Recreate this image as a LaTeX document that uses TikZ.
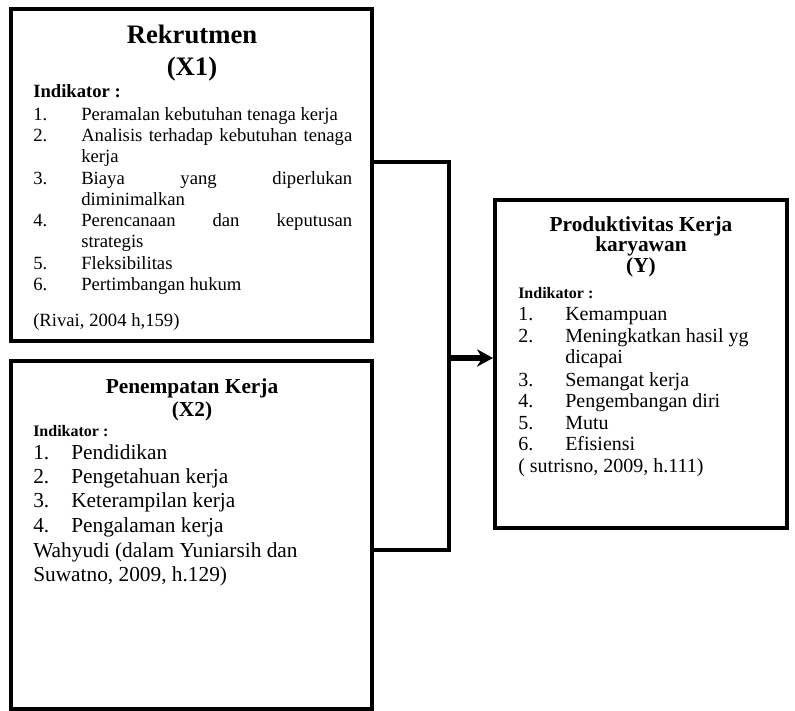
\documentclass[tikz,border=0pt]{standalone}
\usepackage{fontspec}
\setmainfont{Liberation Serif}
\usetikzlibrary{arrows.meta}
\tikzstyle{box}=[draw, line width=3pt, inner sep=0pt]
\tikzstyle{ttl}=[anchor=base, inner sep=0pt]
\tikzstyle{txt}=[anchor=base west, inner sep=0pt]
\tikzstyle{conn}=[line width=3pt]
\newcommand{\fsa}{\fontsize{14}{16}\selectfont}
\newcommand{\fsb}{\fontsize{16}{18}\selectfont}
\newcommand{\fsc}{\fontsize{15}{17}\selectfont}
\newcommand{\jw}{203.25pt}

\begin{document}
\begin{tikzpicture}[x=0.75pt, y=-0.75pt]
\useasboundingbox (0,0) rectangle (795,710);
% kotak
\node[box, minimum width=270.75pt, minimum height=249pt] (a) at (191.5,175) {};
\node[box, minimum width=270.75pt, minimum height=261pt] (b) at (191.5,535) {};
\node[box, minimum width=219pt, minimum height=246pt] (c) at (641,364) {};
% Rekrutmen
\node[ttl, font=\bfseries\fontsize{20}{23}\selectfont] (a1) at (192,44) {Rekrutmen};
\node[ttl, font=\bfseries\fontsize{20}{23}\selectfont] (a2) at (192,75) {(X1)};
\node[txt, font=\bfseries\fsa] (a3) at (33,98) {Indikator :};
\foreach \y/\n in {120/1,141/2,184/3,226/4,269/5,290/6}
  \node[txt, font=\fsa] (an\n) at (33,\y) {\n.};
\foreach \y/\t [count=\i] in {120/{Peramalan kebutuhan tenaga kerja},
  141/{\makebox[\jw][s]{Analisis terhadap kebutuhan tenaga}}, 162/{kerja},
  184/{\makebox[\jw][s]{Biaya yang diperlukan}}, 205/{diminimalkan},
  226/{\makebox[\jw][s]{Perencanaan dan keputusan}}, 247/{strategis},
  269/{Fleksibilitas}, 290/{Pertimbangan hukum}}
  \node[txt, font=\fsa] (al\i) at (81,\y) {\t};
\node[txt, font=\fsa] (a4) at (33,326) {(Rivai, 2004 h,159)};
% Penempatan Kerja
\node[ttl, font=\bfseries\fsb] (b1) at (192,393) {Penempatan Kerja};
\node[ttl, font=\bfseries\fsb] (b2) at (192,416) {(X2)};
\node[txt, font=\bfseries\fontsize{12}{14}\selectfont] (b3) at (33,436) {Indikator :};
\foreach \y/\t [count=\i] in {459/Pendidikan, 483/Pengetahuan kerja,
  507/Keterampilan kerja, 532/Pengalaman kerja}
  {\node[txt, font=\fsb] (bn\i) at (33,\y) {\i.};
   \node[txt, font=\fsb] (bl\i) at (71,\y) {\t};}
\node[txt, font=\fsb] (b4) at (33,557) {Wahyudi (dalam Yuniarsih dan};
\node[txt, font=\fsb] (b5) at (33,581) {Suwatno, 2009, h.129)};
% Produktivitas
\node[ttl, font=\bfseries\fsb] (c1) at (641,231) {Produktivitas Kerja};
\node[ttl, font=\bfseries\fsb] (c2) at (641,251) {karyawan};
\node[ttl, font=\bfseries\fsb] (c3) at (641,272) {(Y)};
\node[txt, font=\bfseries\fontsize{12}{14}\selectfont] (c4) at (518,298) {Indikator :};
\foreach \y/\n in {320/1,342/2,386/3,407/4,429/5,450/6}
  \node[txt, font=\fsc] (cn\n) at (518,\y) {\n.};
\foreach \y/\t [count=\i] in {320/Kemampuan, 342/Meningkatkan hasil yg,
  363/dicapai, 386/Semangat kerja, 407/Pengembangan diri, 429/Mutu,
  450/Efisiensi}
  \node[txt, font=\fsc] (cl\i) at (565,\y) {\t};
\node[txt, font=\fsc] (c5) at (518,472) {( sutrisno, 2009, h.111)};
% garis
\coordinate (j1) at (449,162);
\coordinate (j2) at (449,550);
\coordinate (j3) at (449,358);
\draw[conn] (a.east |- j1) -- (j1) -- (j2) -- (b.east |- j2);
\draw[conn, line width=4.5pt, -{Stealth[length=12pt,width=13pt]}] (j3) -- (c.west |- j3);
\end{tikzpicture}
\end{document}
